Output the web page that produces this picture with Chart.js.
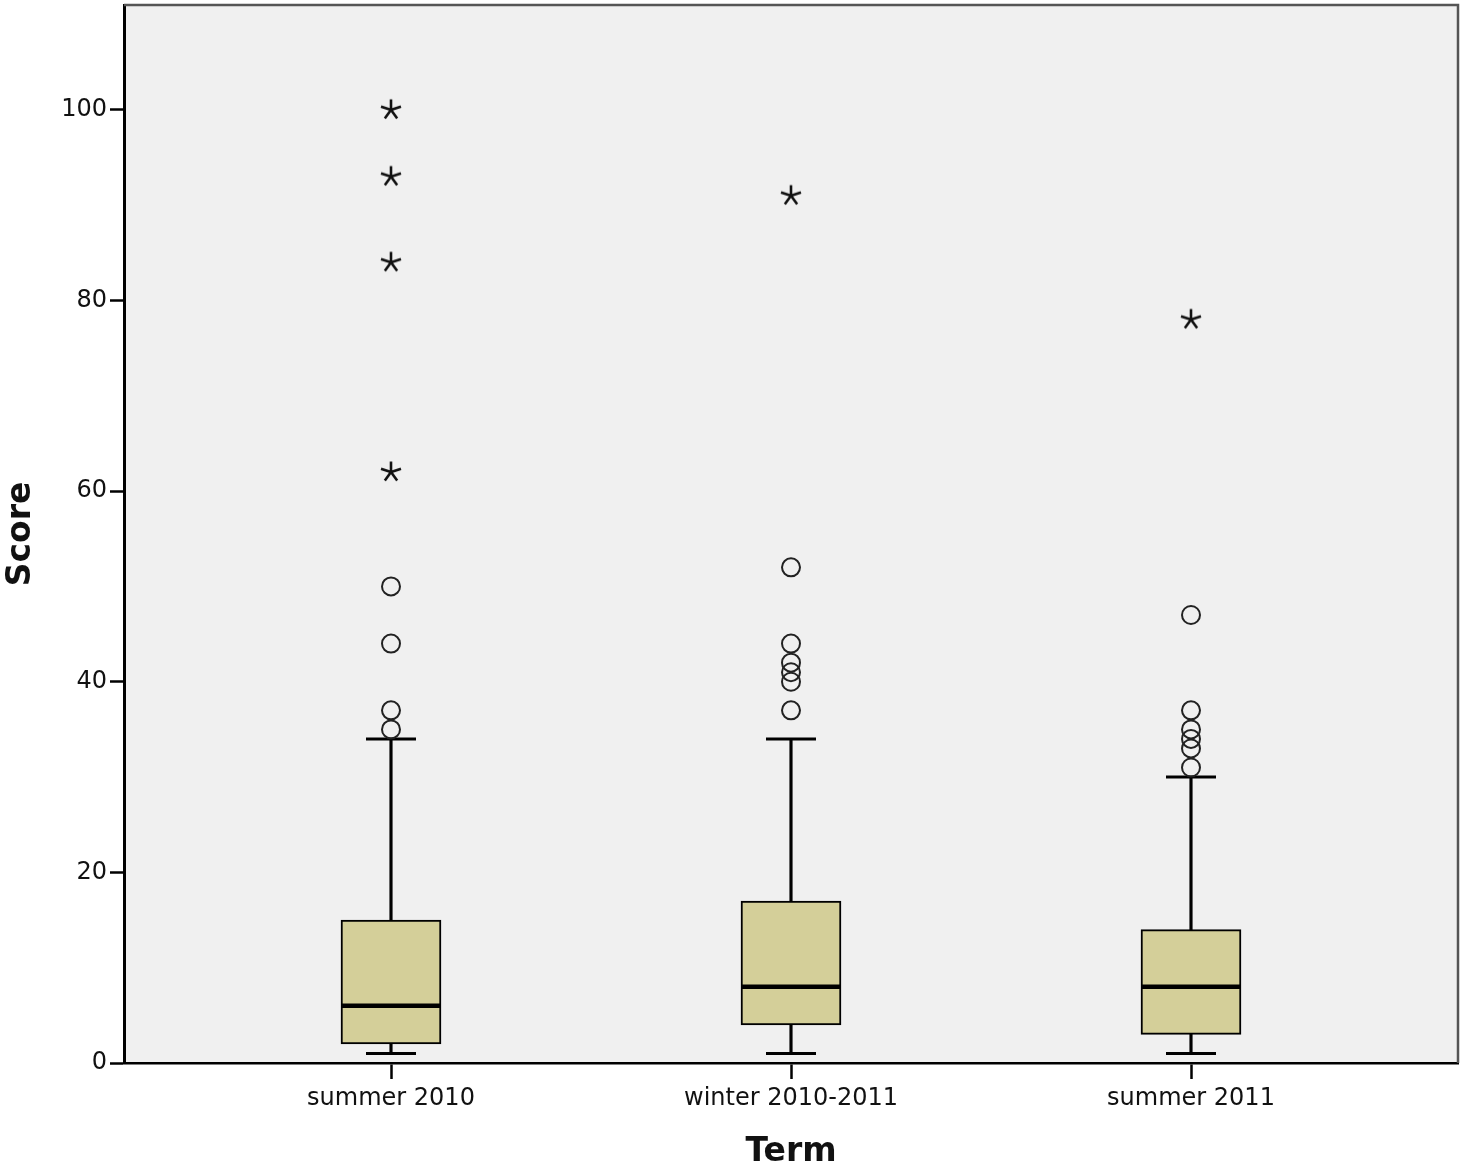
<!DOCTYPE html>
<html>
<head>
<meta charset="utf-8">
<script src="https://cdn.jsdelivr.net/npm/chart.js@4/dist/chart.umd.min.js"></script>
<style>
  html, body { margin: 0; padding: 0; background: #fff; }
  #wrap { width: 1468px; height: 1166px; }
</style>
</head>
<body>
<div id="wrap"><canvas id="box"></canvas></div>
<script>
// datos del grafico
const terms = ['summer 2010', 'winter 2010-2011', 'summer 2011'];
const whiskerLow = [1, 1, 1];
const q1 = [2, 4, 3];
const median = [6, 8, 8];
const q3 = [15, 17, 14];
const whiskerHigh = [34, 34, 30];
// valores atipicos (circulos) y extremos (asteriscos)
const outliers = [
    [35, 37, 44, 50],
    [37, 40, 41, 42, 44, 52],
    [31, 33, 34, 35, 37, 47]
];
const extremes = [
    [62, 84, 93, 100],
    [91],
    [78]
];
const yTicks = [0, 20, 40, 60, 80, 100];

// asterisco como pointStyle
function makeStar() {
    const c = document.createElement('canvas');
    c.width = 24; c.height = 24;
    const g = c.getContext('2d');
    g.strokeStyle = '#111';
    g.lineWidth = 2.6;
    g.lineCap = 'butt';
    g.beginPath();
    for (let i = 0; i < 5; i++) {
        const a = -Math.PI / 2 + i * 2 * Math.PI / 5;
        g.moveTo(12, 12);
        g.lineTo(12 + Math.cos(a) * 10.5, 12 + Math.sin(a) * 10.5);
    }
    g.stroke();
    return c;
}
const star = makeStar();

const pts = (arr) => arr.map((v, i) => ({ x: i, y: v }));
const flat = (lists) => lists.flatMap((l, i) => l.map(v => ({ x: i, y: v })));

const plotFrame = {
    id: 'plotFrame',
    beforeDraw(chart) {
        const { ctx, chartArea: a } = chart;
        ctx.save();
        ctx.fillStyle = '#f0f0f0';
        ctx.fillRect(a.left, a.top, a.right - a.left, a.bottom - a.top);
        ctx.restore();
    },
    afterDraw(chart) {
        const { ctx, chartArea: a } = chart;
        ctx.save();
        ctx.strokeStyle = '#555';
        ctx.lineWidth = 2.5;
        ctx.beginPath();
        ctx.moveTo(a.left, a.top);
        ctx.lineTo(a.right, a.top);
        ctx.lineTo(a.right, a.bottom);
        ctx.stroke();
        ctx.restore();
    }
};

const data = {
    datasets: [
        {
            type: 'bar',
            label: 'whisker',
            data: terms.map((t, i) => ({ x: i, y: [whiskerLow[i], whiskerHigh[i]] })),
            backgroundColor: '#000',
            barThickness: 2.5,
            grouped: false,
            order: 6
        },
        {
            type: 'bar',
            label: 'box',
            data: terms.map((t, i) => ({ x: i, y: [q1[i], q3[i]] })),
            backgroundColor: '#d4cf99',
            borderColor: '#000',
            borderWidth: 2,
            borderSkipped: false,
            barThickness: 100,
            grouped: false,
            order: 5
        },
        {
            type: 'scatter',
            label: 'median',
            data: pts(median),
            pointStyle: 'line',
            pointRadius: 50,
            borderColor: '#000',
            pointBorderWidth: 4.5,
            order: 4
        },
        {
            type: 'scatter',
            label: 'caps',
            data: pts(whiskerLow).concat(pts(whiskerHigh)),
            pointStyle: 'line',
            pointRadius: 25,
            borderColor: '#000',
            pointBorderWidth: 3,
            order: 4
        },
        {
            type: 'scatter',
            label: 'outliers',
            data: flat(outliers),
            pointStyle: 'circle',
            pointRadius: 9,
            backgroundColor: 'rgba(0,0,0,0)',
            borderColor: '#222',
            pointBorderWidth: 2,
            order: 3
        },
        {
            type: 'scatter',
            label: 'extremes',
            data: flat(extremes),
            pointStyle: star,
            order: 2
        }
    ]
};

const config = {
    type: 'bar',
    data: data,
    plugins: [plotFrame],
    options: {
        responsive: true,
        maintainAspectRatio: false,
        animation: false,
        layout: { autoPadding: false, padding: { top: 5, right: 10, left: 0, bottom: 0 } },
        plugins: {
            legend: { display: false },
            tooltip: { enabled: false }
        },
        scales: {
            x: {
                type: 'linear',
                min: -0.6675,
                max: 2.6675,
                offset: false,
                afterBuildTicks(scale) {
                    scale.ticks = terms.map((t, i) => ({ value: i }));
                },
                afterFit(scale) {
                    scale.height = 103;
                    scale.paddingLeft = 0;
                    scale.paddingRight = 0;
                },
                ticks: {
                    callback: (v) => terms[v],
                    color: '#111',
                    font: { family: 'DejaVu Sans', size: 24 },
                    padding: 5,
                    maxRotation: 0,
                    autoSkip: false
                },
                grid: {
                    offset: false,
                    drawOnChartArea: false,
                    drawTicks: true,
                    tickLength: 16,
                    tickWidth: 2.5,
                    tickColor: '#000'
                },
                border: { display: true, color: '#000', width: 2.5 },
                title: {
                    display: true,
                    text: 'Term',
                    color: '#111',
                    font: { family: 'DejaVu Sans', size: 33, weight: 'bold' },
                    padding: { top: 12, bottom: -6 }
                }
            },
            y: {
                min: 0,
                max: 111,
                afterBuildTicks(scale) {
                    scale.ticks = yTicks.map(v => ({ value: v }));
                },
                afterFit(scale) {
                    scale.width = 124;
                    scale.paddingTop = 0;
                    scale.paddingBottom = 0;
                },
                ticks: {
                    color: '#111',
                    font: { family: 'DejaVu Sans', size: 24 },
                    padding: 3
                },
                grid: {
                    drawOnChartArea: false,
                    drawTicks: true,
                    tickLength: 14,
                    tickWidth: 2.5,
                    tickColor: '#000'
                },
                border: { display: true, color: '#000', width: 3 },
                title: {
                    display: true,
                    text: 'Score',
                    color: '#111',
                    font: { family: 'DejaVu Sans', size: 33, weight: 'bold' },
                    padding: { top: 2, bottom: 0 }
                }
            }
        }
    }
};

new Chart(document.getElementById('box').getContext('2d'), config);
</script>
</body>
</html>
